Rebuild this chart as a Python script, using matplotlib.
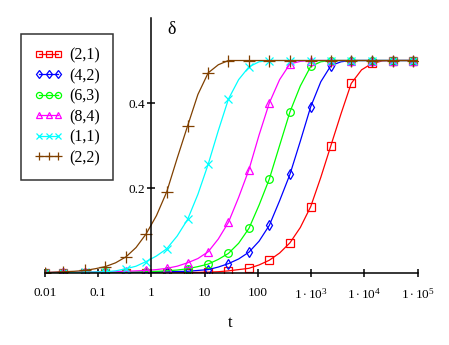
import numpy as np
import matplotlib.pyplot as plt

plt.rcParams['font.family'] = 'Liberation Serif'
plt.rcParams['mathtext.fontset'] = 'custom'
plt.rcParams['mathtext.rm'] = 'Liberation Serif'
plt.rcParams['mathtext.it'] = 'Liberation Serif:italic'

# time points where the markers sit
t = [0.01, 0.0223, 0.057, 0.137, 0.335, 0.8, 1.95, 4.8, 11.7, 28, 68,
     164, 400, 980, 2350, 5650, 13800, 33800, 82300]
# extra points half way between markers (curve only), plus the end of the line
t_mid = [0.0149, 0.0357, 0.0884, 0.214, 0.518, 1.25, 3.06, 7.49, 18.1, 43.6,
         105.6, 256, 626, 1518, 3644, 8830, 21600, 52700]
t_end = 1e5

# delta at the markers, one list per (n,m)
d21 = [0, 0, 0, 0, 0, 0, 0, 0.001, 0.002, 0.005, 0.011,
       0.030, 0.071, 0.156, 0.300, 0.446, 0.493, 0.5, 0.5]
d42 = [0, 0, 0, 0.001, 0.001, 0.002, 0.003, 0.004, 0.008, 0.022, 0.049,
       0.112, 0.232, 0.391, 0.488, 0.5, 0.5, 0.5, 0.5]
d63 = [0.001, 0.001, 0.001, 0.002, 0.002, 0.003, 0.005, 0.010, 0.021, 0.046, 0.105,
       0.221, 0.379, 0.486, 0.5, 0.5, 0.5, 0.5, 0.5]
d84 = [0.001, 0.002, 0.002, 0.003, 0.004, 0.006, 0.011, 0.024, 0.050, 0.119, 0.243,
       0.400, 0.492, 0.5, 0.5, 0.5, 0.5, 0.5, 0.5]
d11 = [0.001, 0.001, 0.002, 0.003, 0.010, 0.027, 0.057, 0.126, 0.256, 0.409, 0.485,
       0.5, 0.5, 0.5, 0.5, 0.5, 0.5, 0.5, 0.5]
d22 = [0.001, 0.003, 0.006, 0.015, 0.038, 0.092, 0.191, 0.346, 0.471, 0.5, 0.5,
       0.5, 0.5, 0.5, 0.5, 0.5, 0.5, 0.5, 0.5]

# delta
d21_mid = [0, 0, 0, 0, 0, 0, 0.0005, 0.0015, 0.003, 0.008, 0.019, 0.047,
           0.107, 0.225, 0.375, 0.478, 0.499, 0.5]
d42_mid = [0, 0, 0.0005, 0.001, 0.0015, 0.0025, 0.0035, 0.006, 0.014, 0.033,
           0.075, 0.17, 0.31, 0.45, 0.497, 0.5, 0.5, 0.5]
d63_mid = [0.001, 0.001, 0.0015, 0.002, 0.0025, 0.004, 0.007, 0.015, 0.032,
           0.07, 0.16, 0.30, 0.44, 0.497, 0.5, 0.5, 0.5, 0.5]
d84_mid = [0.0015, 0.002, 0.0025, 0.0035, 0.005, 0.008, 0.016, 0.034, 0.08,
           0.178, 0.325, 0.455, 0.498, 0.5, 0.5, 0.5, 0.5, 0.5]
d11_mid = [0.001, 0.0015, 0.0025, 0.005, 0.016, 0.04, 0.087, 0.185, 0.335,
           0.455, 0.497, 0.5, 0.5, 0.5, 0.5, 0.5, 0.5, 0.5]
d22_mid = [0.002, 0.004, 0.01, 0.024, 0.06, 0.135, 0.27, 0.42, 0.49, 0.5,
           0.5, 0.5, 0.5, 0.5, 0.5, 0.5, 0.5, 0.5]

labels = ['(2,1)', '(4,2)', '(6,3)', '(8,4)', '(1,1)', '(2,2)']
xticks = [0.01, 0.1, 1, 10, 100, 1e3, 1e4, 1e5]
xticklabels = ['0.01', '0.1', '1', '10', '100',
               r'$1\cdot10^{3}$', r'$1\cdot10^{4}$', r'$1\cdot10^{5}$']


def merge(a, b, end):
    out = []
    for i in range(len(b)):
        out += [a[i], b[i]]
    return out + [a[-1], end]


tt = merge(t, t_mid, t_end)

fig = plt.figure(figsize=(4.49, 3.45), dpi=100)
ax = fig.add_axes([0.0996, 0.2087, 0.8307, 0.7391])

styles = [
    ('#ff0000', 's', 5.5),
    ('#0000ff', 'd', 5.5),
    ('#00ff00', 'o', 5.5),
    ('#ff00ff', '^', 5.5),
    ('#00ffff', 'x', 5.5),
    ('#804000', '+', 8),
]
series = [(d21, d21_mid), (d42, d42_mid), (d63, d63_mid),
          (d84, d84_mid), (d11, d11_mid), (d22, d22_mid)]
for (d, dm), lab, (c, m, ms) in zip(series, labels, styles):
    ax.plot(tt, merge(d, dm, 0.5), color=c, lw=0.9, marker=m, ms=ms,
            mfc='none', mec=c, mew=0.9, markevery=2, label=lab)

ax.set_xscale('log')
ax.set_xlim(0.01, 1e5)
ax.set_ylim(0, 0.6)

for s in ['top', 'right']:
    ax.spines[s].set_visible(False)
ax.spines['left'].set_position(('data', 1))
ax.spines['bottom'].set_position(('data', 0))
ax.spines['left'].set_linewidth(1.1)
ax.spines['bottom'].set_linewidth(1.1)

ax.set_xticks(xticks)
ax.set_xticklabels(xticklabels)
ax.xaxis.set_minor_locator(plt.NullLocator())
ax.set_yticks([0.2, 0.4])
ax.set_yticklabels(['0.2', '0.4'])
ax.tick_params(axis='both', direction='inout', length=6, width=1.1,
               labelsize=9.5)
ax.tick_params(axis='x', pad=7)
ax.tick_params(axis='y', pad=1.5)

ax.text(0.34, 0.955, 'δ', transform=ax.transAxes, fontsize=13,
        ha='center', va='center')
fig.text(230 / 449, 1 - 323 / 345, 't', fontsize=12, ha='center', va='center')

leg = ax.legend(loc='upper left', bbox_to_anchor=(21 / 449, 1 - 34 / 345),
                bbox_transform=fig.transFigure, numpoints=3, fontsize=11.5,
                frameon=True, fancybox=False, handlelength=1.75,
                handletextpad=0.4, labelspacing=0.28, borderpad=0.85,
                borderaxespad=0, markerscale=0.8)
leg.get_frame().set_edgecolor('black')
leg.get_frame().set_linewidth(1.1)

fig.savefig('out.png', dpi=100)
